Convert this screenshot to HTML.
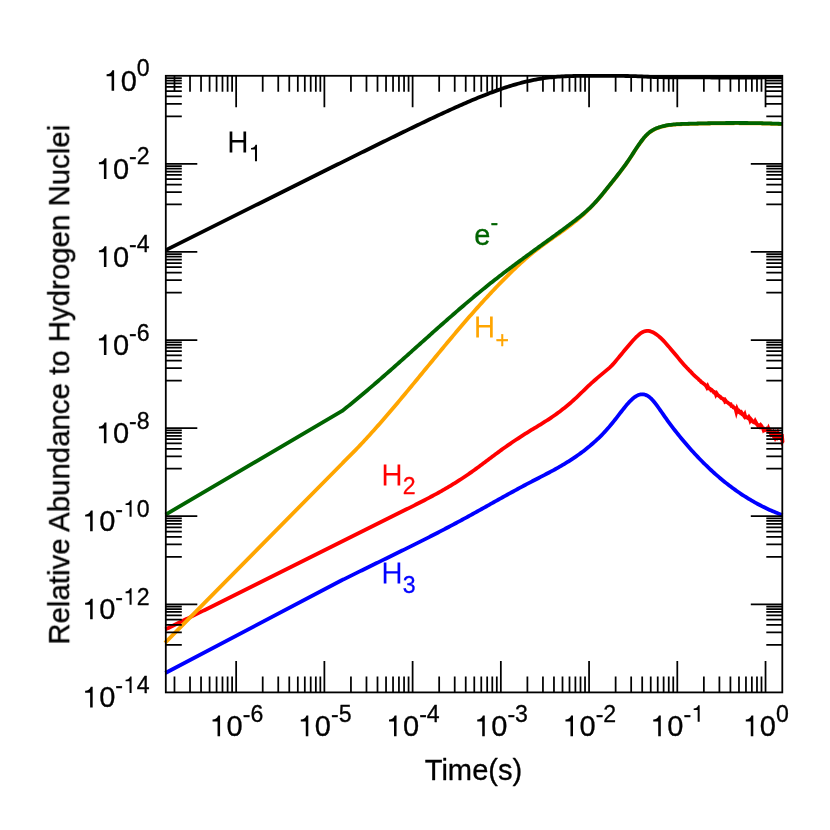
<!DOCTYPE html>
<html>
<head>
<meta charset="utf-8">
<title>Relative Abundance to Hydrogen Nuclei vs Time</title>
<style>
html,body{margin:0;padding:0;background:#fff;}
body{width:830px;height:830px;overflow:hidden;font-family:"Liberation Sans",sans-serif;}
svg{display:block;}
</style>
</head>
<body>
<svg width="830" height="830" viewBox="0 0 830 830">
<rect width="830" height="830" fill="#fff"/>
<g fill="none" stroke-linejoin="round" stroke-linecap="butt" stroke-width="3.8">
<path stroke="#000" d="M165.8 250.09 L167.8 249.09 L169.8 248.09 L171.8 247.09 L173.8 246.1 L175.8 245.1 L177.8 244.1 L179.8 243.1 L181.8 242.1 L183.8 241.1 L185.8 240.11 L187.8 239.11 L189.8 238.11 L191.8 237.11 L193.8 236.11 L195.8 235.12 L197.8 234.12 L199.8 233.12 L201.8 232.12 L203.8 231.12 L205.8 230.12 L207.8 229.13 L209.8 228.13 L211.8 227.13 L213.8 226.13 L215.8 225.13 L217.8 224.13 L219.8 223.14 L221.8 222.14 L223.8 221.14 L225.8 220.14 L227.8 219.14 L229.8 218.15 L231.8 217.15 L233.8 216.15 L235.8 215.15 L237.8 214.15 L239.8 213.16 L241.8 212.16 L243.8 211.16 L245.8 210.16 L247.8 209.16 L249.8 208.17 L251.8 207.17 L253.8 206.17 L255.8 205.17 L257.8 204.18 L259.8 203.18 L261.8 202.18 L263.8 201.18 L265.8 200.18 L267.8 199.19 L269.8 198.19 L271.8 197.19 L273.8 196.19 L275.8 195.2 L277.8 194.2 L279.8 193.2 L281.8 192.2 L283.8 191.21 L285.8 190.21 L287.8 189.21 L289.8 188.22 L291.8 187.22 L293.8 186.22 L295.8 185.23 L297.8 184.23 L299.8 183.23 L301.8 182.24 L303.8 181.24 L305.8 180.24 L307.8 179.25 L309.8 178.25 L311.8 177.26 L313.8 176.26 L315.8 175.26 L317.8 174.27 L319.8 173.27 L321.8 172.28 L323.8 171.28 L325.8 170.29 L327.8 169.29 L329.8 168.3 L331.8 167.3 L333.8 166.31 L335.8 165.32 L337.8 164.32 L339.8 163.33 L341.8 162.34 L343.8 161.34 L345.8 160.35 L347.8 159.36 L349.8 158.37 L351.8 157.38 L353.8 156.38 L355.8 155.39 L357.8 154.4 L359.8 153.41 L361.8 152.42 L363.8 151.44 L365.8 150.45 L367.8 149.46 L369.8 148.47 L371.8 147.48 L373.8 146.5 L375.8 145.51 L377.8 144.53 L379.8 143.54 L381.8 142.56 L383.8 141.58 L385.8 140.6 L387.8 139.62 L389.8 138.64 L391.8 137.66 L393.8 136.68 L395.8 135.7 L397.8 134.73 L399.8 133.75 L401.8 132.78 L403.8 131.81 L405.8 130.84 L407.8 129.87 L409.8 128.9 L411.8 127.93 L413.8 126.97 L415.8 126.01 L417.8 125.05 L419.8 124.09 L421.8 123.13 L423.8 122.18 L425.8 121.23 L427.8 120.28 L429.8 119.33 L431.8 118.39 L433.8 117.45 L435.8 116.51 L437.8 115.57 L439.8 114.64 L441.8 113.71 L443.8 112.79 L445.8 111.87 L447.8 110.95 L449.8 110.04 L451.8 109.13 L453.8 108.23 L455.8 107.33 L457.8 106.44 L459.8 105.55 L461.8 104.67 L463.8 103.79 L465.8 102.92 L467.8 102.06 L469.8 101.21 L471.8 100.36 L473.8 99.52 L475.8 98.68 L477.8 97.86 L479.8 97.04 L481.8 96.23 L483.8 95.43 L485.8 94.65 L487.8 93.87 L489.8 93.1 L491.8 92.35 L493.8 91.6 L495.8 90.87 L497.8 90.15 L499.8 89.44 L501.8 88.75 L503.8 88.07 L505.8 87.41 L507.8 86.76 L509.8 86.13 L511.8 85.51 L513.8 84.91 L515.8 84.33 L517.8 83.76 L519.8 83.22 L521.8 82.69 L523.8 82.18 L525.8 81.7 L527.8 81.23 L529.8 80.78 L531.8 80.35 L533.8 79.95 L535.8 79.56 L537.8 79.2 L539.8 78.86 L541.8 78.54 L543.8 78.24 L545.8 77.96 L547.8 77.71 L549.8 77.47 L551.8 77.26 L553.8 77.06 L555.8 76.88 L557.8 76.72 L559.8 76.58 L561.8 76.46 L563.8 76.35 L565.8 76.25 L567.8 76.17 L569.8 76.1 L571.8 76.04 L573.8 75.99 L575.8 75.95 L577.8 75.92 L579.8 75.9 L581.8 75.88 L583.8 75.86 L585.8 75.85 L587.8 75.84 L589.8 75.84 L591.8 75.83 L593.8 75.83 L595.8 75.83 L597.8 75.83 L599.8 75.84 L601.8 75.84 L603.8 75.84 L605.8 75.85 L607.8 75.86 L609.8 75.86 L611.8 75.87 L613.8 75.88 L615.8 75.9 L617.8 75.91 L619.8 75.92 L621.8 75.94 L623.8 75.96 L625.8 75.99 L627.8 76.02 L629.8 76.06 L631.8 76.1 L633.8 76.16 L635.8 76.22 L637.8 76.29 L639.8 76.37 L641.8 76.46 L643.8 76.56 L645.8 76.65 L647.8 76.75 L649.8 76.84 L651.8 76.92 L653.8 76.99 L655.8 77.05 L657.8 77.11 L659.8 77.16 L661.8 77.2 L663.8 77.24 L665.8 77.27 L667.8 77.3 L669.8 77.33 L671.8 77.35 L673.8 77.37 L675.8 77.38 L677.8 77.39 L679.8 77.4 L681.8 77.41 L683.8 77.41 L685.8 77.42 L687.8 77.42 L689.8 77.43 L691.8 77.43 L693.8 77.44 L695.8 77.44 L697.8 77.45 L699.8 77.45 L701.8 77.46 L703.8 77.46 L705.8 77.47 L707.8 77.47 L709.8 77.47 L711.8 77.48 L713.8 77.48 L715.8 77.48 L717.8 77.48 L719.8 77.49 L721.8 77.49 L723.8 77.49 L725.8 77.49 L727.8 77.49 L729.8 77.5 L731.8 77.5 L733.8 77.5 L735.8 77.5 L737.8 77.5 L739.8 77.5 L741.8 77.5 L743.8 77.5 L745.8 77.49 L747.8 77.49 L749.8 77.49 L751.8 77.49 L753.8 77.49 L755.8 77.48 L757.8 77.48 L759.8 77.48 L761.8 77.47 L763.8 77.47 L765.8 77.46 L767.8 77.46 L769.8 77.45 L771.8 77.45 L773.8 77.44 L775.8 77.44 L777.8 77.43 L779.8 77.42 L781.8 77.42"/>
<path stroke="#f00" stroke-linejoin="miter" d="M165.4 629.4 L166.9 628.66 L168.4 627.93 L169.9 627.19 L171.4 626.45 L172.9 625.72 L174.4 624.98 L175.9 624.24 L177.4 623.51 L178.9 622.77 L180.4 622.03 L181.9 621.29 L183.4 620.55 L184.9 619.81 L186.4 619.07 L187.9 618.33 L189.4 617.59 L190.9 616.85 L192.4 616.11 L193.9 615.37 L195.4 614.63 L196.9 613.89 L198.4 613.15 L199.9 612.4 L201.4 611.66 L202.9 610.92 L204.4 610.18 L205.9 609.43 L207.4 608.69 L208.9 607.94 L210.4 607.2 L211.9 606.46 L213.4 605.71 L214.9 604.97 L216.4 604.22 L217.9 603.48 L219.4 602.73 L220.9 601.99 L222.4 601.24 L223.9 600.49 L225.4 599.75 L226.9 599 L228.4 598.25 L229.9 597.51 L231.4 596.76 L232.9 596.01 L234.4 595.27 L235.9 594.52 L237.4 593.77 L238.9 593.02 L240.4 592.27 L241.9 591.53 L243.4 590.78 L244.9 590.03 L246.4 589.28 L247.9 588.53 L249.4 587.78 L250.9 587.03 L252.4 586.28 L253.9 585.53 L255.4 584.78 L256.9 584.03 L258.4 583.28 L259.9 582.53 L261.4 581.78 L262.9 581.03 L264.4 580.28 L265.9 579.53 L267.4 578.78 L268.9 578.03 L270.4 577.28 L271.9 576.53 L273.4 575.78 L274.9 575.03 L276.4 574.28 L277.9 573.53 L279.4 572.78 L280.9 572.02 L282.4 571.27 L283.9 570.52 L285.4 569.77 L286.9 569.02 L288.4 568.27 L289.9 567.51 L291.4 566.76 L292.9 566.01 L294.4 565.26 L295.9 564.51 L297.4 563.76 L298.9 563 L300.4 562.25 L301.9 561.5 L303.4 560.75 L304.9 560 L306.4 559.25 L307.9 558.49 L309.4 557.74 L310.9 556.99 L312.4 556.24 L313.9 555.49 L315.4 554.73 L316.9 553.98 L318.4 553.23 L319.9 552.48 L321.4 551.73 L322.9 550.98 L324.4 550.22 L325.9 549.47 L327.4 548.72 L328.9 547.97 L330.4 547.22 L331.9 546.47 L333.4 545.72 L334.9 544.97 L336.4 544.21 L337.9 543.46 L339.4 542.71 L340.9 541.96 L342.4 541.21 L343.9 540.46 L345.4 539.71 L346.9 538.96 L348.4 538.21 L349.9 537.46 L351.4 536.71 L352.9 535.96 L354.4 535.21 L355.9 534.46 L357.4 533.71 L358.9 532.96 L360.4 532.21 L361.9 531.46 L363.4 530.71 L364.9 529.97 L366.4 529.22 L367.9 528.47 L369.4 527.72 L370.9 526.97 L372.4 526.22 L373.9 525.48 L375.4 524.73 L376.9 523.98 L378.4 523.23 L379.9 522.49 L381.4 521.74 L382.9 520.99 L384.4 520.25 L385.9 519.5 L387.4 518.75 L388.9 518.01 L390.4 517.26 L391.9 516.52 L393.4 515.77 L394.9 515.03 L396.4 514.28 L397.9 513.54 L399.4 512.79 L400.9 512.05 L402.4 511.31 L403.9 510.56 L405.4 509.82 L406.9 509.07 L408.4 508.33 L409.9 507.58 L411.4 506.83 L412.9 506.08 L414.4 505.32 L415.9 504.57 L417.4 503.81 L418.9 503.05 L420.4 502.28 L421.9 501.51 L423.4 500.74 L424.9 499.96 L426.4 499.18 L427.9 498.39 L429.4 497.6 L430.9 496.8 L432.4 495.99 L433.9 495.18 L435.4 494.37 L436.9 493.55 L438.4 492.72 L439.9 491.88 L441.4 491.03 L442.9 490.18 L444.4 489.32 L445.9 488.45 L447.4 487.58 L448.9 486.69 L450.4 485.79 L451.9 484.89 L453.4 483.97 L454.9 483.05 L456.4 482.11 L457.9 481.16 L459.4 480.21 L460.9 479.24 L462.4 478.26 L463.9 477.27 L465.4 476.26 L466.9 475.24 L468.4 474.21 L469.9 473.17 L471.4 472.12 L472.9 471.05 L474.4 469.97 L475.9 468.88 L477.4 467.78 L478.9 466.67 L480.4 465.56 L481.9 464.44 L483.4 463.32 L484.9 462.19 L486.4 461.06 L487.9 459.93 L489.4 458.81 L490.9 457.68 L492.4 456.55 L493.9 455.43 L495.4 454.31 L496.9 453.2 L498.4 452.1 L499.9 451 L501.4 449.91 L502.9 448.83 L504.4 447.76 L505.9 446.7 L507.4 445.65 L508.9 444.61 L510.4 443.58 L511.9 442.55 L513.4 441.53 L514.9 440.53 L516.4 439.53 L517.9 438.54 L519.4 437.55 L520.9 436.58 L522.4 435.61 L523.9 434.66 L525.4 433.71 L526.9 432.77 L528.4 431.83 L529.9 430.91 L531.4 429.99 L532.9 429.08 L534.4 428.17 L535.9 427.26 L537.4 426.35 L538.9 425.44 L540.4 424.52 L541.9 423.6 L543.4 422.67 L544.9 421.73 L546.4 420.77 L547.9 419.8 L549.4 418.81 L550.9 417.81 L552.4 416.79 L553.9 415.75 L555.4 414.69 L556.9 413.62 L558.4 412.52 L559.9 411.41 L561.4 410.27 L562.9 409.11 L564.4 407.93 L565.9 406.72 L567.4 405.49 L568.9 404.23 L570.4 402.94 L571.9 401.63 L573.4 400.29 L574.9 398.92 L576.4 397.52 L577.9 396.1 L579.4 394.66 L580.9 393.2 L582.4 391.74 L583.9 390.28 L585.4 388.83 L586.9 387.38 L588.4 385.95 L589.9 384.55 L591.4 383.17 L592.9 381.82 L594.4 380.49 L595.9 379.19 L597.4 377.9 L598.9 376.64 L600.4 375.39 L601.9 374.14 L603.4 372.9 L604.9 371.65 L606.4 370.39 L607.9 369.12 L609.4 367.84 L610.9 366.5 L612.4 364.86 L613.9 363.15 L615.4 361.41 L616.9 359.64 L618.4 357.85 L619.9 356.04 L621.4 354.22 L622.9 352.4 L624.4 350.57 L625.9 348.75 L627.4 346.95 L628.9 345.16 L630.4 343.41 L631.9 341.7 L633.4 340.04 L634.9 338.46 L636.4 336.96 L637.9 335.54 L639.4 334.24 L640.9 333.09 L642.4 332.17 L643.9 331.51 L645.4 331.1 L646.9 330.92 L648.4 330.97 L649.9 331.22 L651.4 331.67 L652.9 332.3 L654.4 333.1 L655.9 334.06 L657.4 335.15 L658.9 336.37 L660.4 337.71 L661.9 339.15 L663.4 340.68 L664.9 342.28 L666.4 343.94 L667.9 345.64 L669.4 347.38 L670.9 349.15 L672.4 350.93 L673.9 352.73 L675.4 354.54 L676.9 356.34 L678.4 358.14 L679.9 359.93 L681.4 361.69 L682.9 363.44 L684.4 365.15 L685.9 366.82 L687.4 368.46 L688 368.97 L688.7 369.71 L689.4 370.63 L690.1 371.03 L690.8 371.97 L691.5 372.44 L692.2 373.51 L692.9 374.09 L693.6 374.91 L694.3 375.36 L695 376.13 L695.7 376.7 L696.4 377.29 L697.1 378.05 L697.8 378.49 L698.5 379.24 L699.2 380.01 L699.9 380.54 L700.6 381.08 L701.3 382.07 L702 382.35 L702.7 382.85 L703.4 383.56 L704.1 384.03 L704.8 384.63 L705.5 385.22 L706.2 386.19 L706.9 387.46 L707.6 386.21 L708.3 387.67 L709 388.47 L709.7 388.62 L710.4 389.1 L711.1 390.23 L711.8 390.03 L712.5 390.79 L713.2 391.54 L713.9 392.41 L714.6 392.3 L715.3 392.53 L716 394.6 L716.7 393.52 L717.4 394.57 L718.1 395.3 L718.8 395.78 L719.5 396.34 L720.2 396.71 L720.9 397.66 L721.6 398.26 L722.3 398.44 L723 398.86 L723.7 399.71 L724.4 399.46 L725.1 401.53 L725.8 401.02 L726.5 401.97 L727.2 402.2 L727.9 402.67 L728.6 403.37 L729.3 403.84 L730 404.39 L730.7 404.34 L731.4 406.01 L732.1 406.07 L732.8 406.26 L733.5 407.4 L734.2 407.72 L734.9 408.15 L735.6 409.05 L736.3 411.7 L737 409.23 L737.7 410.87 L738.4 411.63 L739.1 410.93 L739.8 411.64 L740.5 412.69 L741.2 412.19 L741.9 413.3 L742.6 414.5 L743.3 414.91 L744 415.87 L744.7 414.6 L745.4 417.1 L746.1 416.76 L746.8 417.38 L747.5 417.75 L748.2 418.23 L748.9 417.1 L749.6 418.33 L750.3 420.55 L751 419.5 L751.7 420.32 L752.4 420.8 L753.1 421.78 L753.8 422.22 L754.5 422.55 L755.2 421.15 L755.9 422.42 L756.6 423.9 L757.3 424.43 L758 425.59 L758.7 425.08 L759.4 425.15 L760.1 426.37 L760.8 425.27 L761.5 426.09 L762.2 427.58 L762.9 428.05 L763.6 430.05 L764.3 429.33 L765 430.12 L765.7 429.71 L766.4 429.04 L767.1 429.86 L767.8 430.42 L768.5 428.6 L769.2 430.22 L769.9 430.49 L770.6 433.18 L771.3 434.75 L772 434.33 L772.7 435.22 L773.4 433.36 L774.1 435.4 L774.8 436.93 L775.5 434.77 L776.2 436.58 L776.9 435.23 L777.6 433.53 L778.3 436.28 L779 435.22 L779.7 436.9 L780.4 436.33 L781.1 437.84 L781.8 434.19 L782.5 441.36 L783.2 440.5"/>
<path stroke="#00f" d="M165.4 673 L342.2 580 L343.7 579.36 L345.2 578.61 L346.7 577.86 L348.2 577.11 L349.7 576.37 L351.2 575.62 L352.7 574.88 L354.2 574.14 L355.7 573.39 L357.2 572.65 L358.7 571.91 L360.2 571.17 L361.7 570.43 L363.2 569.69 L364.7 568.96 L366.2 568.22 L367.7 567.48 L369.2 566.75 L370.7 566.01 L372.2 565.28 L373.7 564.54 L375.2 563.81 L376.7 563.07 L378.2 562.34 L379.7 561.61 L381.2 560.87 L382.7 560.14 L384.2 559.4 L385.7 558.67 L387.2 557.93 L388.7 557.2 L390.2 556.46 L391.7 555.73 L393.2 554.99 L394.7 554.26 L396.2 553.52 L397.7 552.78 L399.2 552.05 L400.7 551.31 L402.2 550.57 L403.7 549.83 L405.2 549.09 L406.7 548.34 L408.2 547.6 L409.7 546.86 L411.2 546.11 L412.7 545.37 L414.2 544.62 L415.7 543.87 L417.2 543.12 L418.7 542.37 L420.2 541.62 L421.7 540.86 L423.2 540.11 L424.7 539.35 L426.2 538.59 L427.7 537.83 L429.2 537.07 L430.7 536.31 L432.2 535.54 L433.7 534.77 L435.2 534 L436.7 533.23 L438.2 532.46 L439.7 531.68 L441.2 530.9 L442.7 530.12 L444.2 529.34 L445.7 528.56 L447.2 527.77 L448.7 526.98 L450.2 526.19 L451.7 525.39 L453.2 524.6 L454.7 523.8 L456.2 522.99 L457.7 522.19 L459.2 521.38 L460.7 520.57 L462.2 519.76 L463.7 518.94 L465.2 518.12 L466.7 517.3 L468.2 516.47 L469.7 515.65 L471.2 514.82 L472.7 513.99 L474.2 513.16 L475.7 512.33 L477.2 511.49 L478.7 510.66 L480.2 509.82 L481.7 508.98 L483.2 508.15 L484.7 507.31 L486.2 506.47 L487.7 505.63 L489.2 504.79 L490.7 503.95 L492.2 503.11 L493.7 502.27 L495.2 501.43 L496.7 500.59 L498.2 499.76 L499.7 498.92 L501.2 498.09 L502.7 497.25 L504.2 496.42 L505.7 495.59 L507.2 494.76 L508.7 493.93 L510.2 493.1 L511.7 492.28 L513.2 491.46 L514.7 490.64 L516.2 489.82 L517.7 489.01 L519.2 488.2 L520.7 487.39 L522.2 486.59 L523.7 485.78 L525.2 484.99 L526.7 484.19 L528.2 483.4 L529.7 482.61 L531.2 481.83 L532.7 481.05 L534.2 480.27 L535.7 479.5 L537.2 478.73 L538.7 477.95 L540.2 477.18 L541.7 476.4 L543.2 475.62 L544.7 474.84 L546.2 474.06 L547.7 473.27 L549.2 472.48 L550.7 471.67 L552.2 470.87 L553.7 470.05 L555.2 469.23 L556.7 468.4 L558.2 467.55 L559.7 466.7 L561.2 465.83 L562.7 464.95 L564.2 464.06 L565.7 463.16 L567.2 462.24 L568.7 461.3 L570.2 460.35 L571.7 459.38 L573.2 458.39 L574.7 457.38 L576.2 456.35 L577.7 455.3 L579.2 454.24 L580.7 453.14 L582.2 452.03 L583.7 450.89 L585.2 449.73 L586.7 448.54 L588.2 447.33 L589.7 446.09 L591.2 444.82 L592.7 443.52 L594.2 442.19 L595.7 440.83 L597.2 439.44 L598.7 438.01 L600.2 436.54 L601.7 435.04 L603.2 433.49 L604.7 431.9 L606.2 430.27 L607.7 428.6 L609.2 426.87 L610.7 425.1 L612.2 423.28 L613.7 421.41 L615.2 419.51 L616.7 417.58 L618.2 415.63 L619.7 413.68 L621.2 411.74 L622.7 409.83 L624.2 407.95 L625.7 406.11 L627.2 404.34 L628.7 402.66 L630.2 401.07 L631.7 399.61 L633.2 398.28 L634.7 397.12 L636.2 396.12 L637.7 395.33 L639.2 394.74 L640.7 394.38 L642.2 394.27 L643.7 394.39 L645.2 394.76 L646.7 395.37 L648.2 396.22 L649.7 397.33 L651.2 398.68 L652.7 400.26 L654.2 402.03 L655.7 403.93 L657.2 405.93 L658.7 408.01 L660.2 410.14 L661.7 412.28 L663.2 414.43 L664.7 416.57 L666.2 418.68 L667.7 420.77 L669.2 422.82 L670.7 424.84 L672.2 426.83 L673.7 428.79 L675.2 430.72 L676.7 432.63 L678.2 434.51 L679.7 436.37 L681.2 438.2 L682.7 440.01 L684.2 441.8 L685.7 443.57 L687.2 445.31 L688.7 447.03 L690.2 448.73 L691.7 450.41 L693.2 452.06 L694.7 453.7 L696.2 455.31 L697.7 456.9 L699.2 458.46 L700.7 460.01 L702.2 461.54 L703.7 463.04 L705.2 464.52 L706.7 465.98 L708.2 467.42 L709.7 468.84 L711.2 470.24 L712.7 471.62 L714.2 472.98 L715.7 474.32 L717.2 475.63 L718.7 476.93 L720.2 478.21 L721.7 479.46 L723.2 480.7 L724.7 481.92 L726.2 483.12 L727.7 484.3 L729.2 485.46 L730.7 486.6 L732.2 487.72 L733.7 488.82 L735.2 489.9 L736.7 490.97 L738.2 492.02 L739.7 493.04 L741.2 494.05 L742.7 495.04 L744.2 496.02 L745.7 496.97 L747.2 497.91 L748.7 498.83 L750.2 499.73 L751.7 500.61 L753.2 501.48 L754.7 502.33 L756.2 503.16 L757.7 503.98 L759.2 504.78 L760.7 505.56 L762.2 506.32 L763.7 507.07 L765.2 507.8 L766.7 508.51 L768.2 509.21 L769.7 509.9 L771.2 510.56 L772.7 511.21 L774.2 511.85 L775.7 512.47 L777.2 513.07 L778.7 513.66 L780.2 514.23 L781.7 514.79 L782.6 515.11"/>
<path stroke="#ffa500" d="M165 642.8 L342.2 463.5 L343.7 461.85 L345.2 460.39 L346.7 458.92 L348.2 457.44 L349.7 455.94 L351.2 454.43 L352.7 452.91 L354.2 451.38 L355.7 449.83 L357.2 448.27 L358.7 446.7 L360.2 445.12 L361.7 443.53 L363.2 441.93 L364.7 440.32 L366.2 438.69 L367.7 437.06 L369.2 435.42 L370.7 433.76 L372.2 432.1 L373.7 430.43 L375.2 428.75 L376.7 427.06 L378.2 425.37 L379.7 423.66 L381.2 421.95 L382.7 420.23 L384.2 418.5 L385.7 416.77 L387.2 415.03 L388.7 413.28 L390.2 411.53 L391.7 409.77 L393.2 408 L394.7 406.23 L396.2 404.46 L397.7 402.68 L399.2 400.89 L400.7 399.1 L402.2 397.31 L403.7 395.51 L405.2 393.71 L406.7 391.9 L408.2 390.1 L409.7 388.29 L411.2 386.47 L412.7 384.66 L414.2 382.84 L415.7 381.02 L417.2 379.2 L418.7 377.37 L420.2 375.55 L421.7 373.72 L423.2 371.9 L424.7 370.07 L426.2 368.25 L427.7 366.42 L429.2 364.59 L430.7 362.77 L432.2 360.94 L433.7 359.12 L435.2 357.3 L436.7 355.48 L438.2 353.66 L439.7 351.84 L441.2 350.03 L442.7 348.22 L444.2 346.41 L445.7 344.61 L447.2 342.81 L448.7 341.01 L450.2 339.21 L451.7 337.42 L453.2 335.64 L454.7 333.86 L456.2 332.08 L457.7 330.31 L459.2 328.55 L460.7 326.79 L462.2 325.03 L463.7 323.29 L465.2 321.55 L466.7 319.81 L468.2 318.08 L469.7 316.37 L471.2 314.65 L472.7 312.95 L474.2 311.25 L475.7 309.56 L477.2 307.88 L478.7 306.2 L480.2 304.54 L481.7 302.88 L483.2 301.23 L484.7 299.59 L486.2 297.96 L487.7 296.34 L489.2 294.72 L490.7 293.12 L492.2 291.52 L493.7 289.94 L495.2 288.36 L496.7 286.79 L498.2 285.23 L499.7 283.68 L501.2 282.15 L502.7 280.62 L504.2 279.1 L505.7 277.59 L507.2 276.09 L508.7 274.61 L510.2 273.14 L511.7 271.67 L513.2 270.23 L514.7 268.79 L516.2 267.37 L517.7 265.97 L519.2 264.58 L520.7 263.2 L522.2 261.84 L523.7 260.5 L525.2 259.18 L526.7 257.88 L528.2 256.59 L529.7 255.32 L531.2 254.07 L532.7 252.85 L534.2 251.64 L535.7 250.45 L537.2 249.29 L538.7 248.14 L540.2 247.01 L541.7 245.89 L543.2 244.79 L544.7 243.7 L546.2 242.62 L547.7 241.54 L549.2 240.48 L550.7 239.42 L552.2 238.36 L553.7 237.3 L555.2 236.25 L556.7 235.2 L558.2 234.14 L559.7 233.08 L561.2 232.01 L562.7 230.93 L564.2 229.85 L565.7 228.75 L567.2 227.65 L568.7 226.53 L570.2 225.39 L571.7 224.24 L573.2 223.07 L574.7 221.88 L576.2 220.66 L577.7 219.43 L579.2 218.16 L580.7 216.88 L582.2 215.56 L583.7 214.22 L585.2 212.84 L586.7 211.43 L588.2 209.99 L589.7 208.51 L590 208.2 L592.7 205.3 L594.2 203.74 L595.7 202.12 L597.2 200.46 L598.7 198.75 L600.2 196.99 L601.7 195.21 L603.2 193.39 L604.7 191.54 L606.2 189.68 L607.7 187.8 L609.2 185.9 L610.7 184.01 L612.2 182.11 L613.7 180.21 L615.2 178.32 L616.7 176.44 L618.2 174.54 L619.7 172.62 L621.2 170.67 L622.7 168.69 L624.2 166.65 L625.7 164.57 L627.2 162.42 L628.7 160.22 L630.2 157.97 L631.7 155.68 L633.2 153.37 L634.7 151.07 L636.2 148.78 L637.7 146.53 L639.2 144.34 L640.7 142.24 L642.2 140.24 L643.7 138.36 L645.2 136.62 L646.7 135.04 L648.2 133.65 L649.7 132.41 L651.2 131.33 L652.7 130.39 L654.2 129.57 L655.7 128.85 L657.2 128.23 L658.7 127.68 L660.2 127.2 L661.7 126.76 L663.2 126.37 L664.7 126.03 L666.2 125.72 L667.7 125.45 L669.2 125.22 L670.7 125.02 L672.2 124.84 L673.7 124.7 L675.2 124.57 L676.7 124.47 L678.2 124.38 L679.7 124.3 L681.2 124.24 L682.7 124.18 L684.2 124.14 L685.7 124.09 L687.2 124.04 L688.7 124 L690.2 123.95 L691.7 123.91 L693.2 123.87 L694.7 123.83 L696.2 123.79 L697.7 123.75 L699.2 123.71 L700.7 123.68 L702.2 123.64 L703.7 123.61 L705.2 123.58 L706.7 123.55 L708.2 123.52 L709.7 123.49 L711.2 123.46 L712.7 123.43 L714.2 123.41 L715.7 123.39 L717.2 123.36 L718.7 123.34 L720.2 123.33 L721.7 123.31 L723.2 123.29 L724.7 123.28 L726.2 123.27 L727.7 123.26 L729.2 123.25 L730.7 123.24 L732.2 123.23 L733.7 123.23 L735.2 123.22 L736.7 123.22 L738.2 123.22 L739.7 123.23 L741.2 123.23 L742.7 123.24 L744.2 123.25 L745.7 123.26 L747.2 123.27 L748.7 123.28 L750.2 123.3 L751.7 123.31 L753.2 123.33 L754.7 123.35 L756.2 123.38 L757.7 123.4 L759.2 123.43 L760.7 123.46 L762.2 123.49 L763.7 123.53 L765.2 123.56 L766.7 123.6 L768.2 123.64 L769.7 123.68 L771.2 123.73 L772.7 123.78 L774.2 123.83 L775.7 123.88 L777.2 123.93 L778.7 123.99 L780.2 124.05 L781.7 124.11 L783 124.16"/>
<path stroke="#006400" d="M165.6 514.6 L342.2 410.9 L343.7 409.71 L345.2 408.51 L346.7 407.31 L348.2 406.11 L349.7 404.9 L351.2 403.68 L352.7 402.46 L354.2 401.23 L355.7 399.99 L357.2 398.75 L358.7 397.51 L360.2 396.26 L361.7 395.01 L363.2 393.75 L364.7 392.49 L366.2 391.22 L367.7 389.95 L369.2 388.67 L370.7 387.39 L372.2 386.11 L373.7 384.82 L375.2 383.53 L376.7 382.24 L378.2 380.94 L379.7 379.64 L381.2 378.34 L382.7 377.03 L384.2 375.72 L385.7 374.41 L387.2 373.09 L388.7 371.78 L390.2 370.46 L391.7 369.13 L393.2 367.81 L394.7 366.48 L396.2 365.15 L397.7 363.82 L399.2 362.49 L400.7 361.16 L402.2 359.82 L403.7 358.49 L405.2 357.15 L406.7 355.81 L408.2 354.47 L409.7 353.14 L411.2 351.79 L412.7 350.45 L414.2 349.11 L415.7 347.77 L417.2 346.43 L418.7 345.09 L420.2 343.75 L421.7 342.41 L423.2 341.06 L424.7 339.72 L426.2 338.38 L427.7 337.05 L429.2 335.71 L430.7 334.37 L432.2 333.03 L433.7 331.7 L435.2 330.36 L436.7 329.03 L438.2 327.7 L439.7 326.37 L441.2 325.05 L442.7 323.72 L444.2 322.4 L445.7 321.08 L447.2 319.76 L448.7 318.44 L450.2 317.13 L451.7 315.82 L453.2 314.51 L454.7 313.21 L456.2 311.91 L457.7 310.61 L459.2 309.31 L460.7 308.02 L462.2 306.73 L463.7 305.45 L465.2 304.17 L466.7 302.89 L468.2 301.62 L469.7 300.35 L471.2 299.09 L472.7 297.83 L474.2 296.57 L475.7 295.32 L477.2 294.08 L478.7 292.84 L480.2 291.6 L481.7 290.37 L483.2 289.15 L484.7 287.93 L486.2 286.71 L487.7 285.5 L489.2 284.3 L490.7 283.11 L492.2 281.92 L493.7 280.73 L495.2 279.55 L496.7 278.38 L498.2 277.21 L499.7 276.05 L501.2 274.9 L502.7 273.75 L504.2 272.6 L505.7 271.46 L507.2 270.32 L508.7 269.19 L510.2 268.06 L511.7 266.94 L513.2 265.82 L514.7 264.7 L516.2 263.59 L517.7 262.47 L519.2 261.37 L520.7 260.26 L522.2 259.16 L523.7 258.06 L525.2 256.96 L526.7 255.87 L528.2 254.77 L529.7 253.68 L531.2 252.59 L532.7 251.5 L534.2 250.41 L535.7 249.32 L537.2 248.24 L538.7 247.15 L540.2 246.06 L541.7 244.98 L543.2 243.89 L544.7 242.8 L546.2 241.71 L547.7 240.63 L549.2 239.54 L550.7 238.45 L552.2 237.36 L553.7 236.26 L555.2 235.17 L556.7 234.07 L558.2 232.98 L559.7 231.87 L561.2 230.77 L562.7 229.67 L564.2 228.56 L565.7 227.45 L567.2 226.33 L568.7 225.21 L570.2 224.09 L571.7 222.97 L573.2 221.84 L574.7 220.69 L576.2 219.54 L577.7 218.36 L579.2 217.17 L580.7 215.96 L582.2 214.72 L583.7 213.45 L585.2 212.15 L586.7 210.81 L588.2 209.44 L589.7 208.02 L591.2 206.56 L592.7 205.05 L594.2 203.49 L595.7 201.87 L597.2 200.21 L598.7 198.5 L600.2 196.74 L601.7 194.96 L603.2 193.14 L604.7 191.29 L606.2 189.43 L607.7 187.55 L609.2 185.65 L610.7 183.76 L612.2 181.86 L613.7 179.96 L615.2 178.07 L616.7 176.19 L618.2 174.29 L619.7 172.37 L621.2 170.42 L622.7 168.44 L624.2 166.4 L625.7 164.32 L627.2 162.17 L628.7 159.97 L630.2 157.72 L631.7 155.43 L633.2 153.12 L634.7 150.82 L636.2 148.53 L637.7 146.28 L639.2 144.09 L640.7 141.99 L642.2 139.99 L643.7 138.11 L645.2 136.37 L646.7 134.79 L648.2 133.4 L649.7 132.16 L651.2 131.08 L652.7 130.14 L654.2 129.32 L655.7 128.6 L657.2 127.98 L658.7 127.43 L660.2 126.95 L661.7 126.51 L663.2 126.12 L664.7 125.78 L666.2 125.47 L667.7 125.2 L669.2 124.97 L670.7 124.77 L672.2 124.59 L673.7 124.45 L675.2 124.32 L676.7 124.22 L678.2 124.13 L679.7 124.05 L681.2 123.99 L682.7 123.93 L684.2 123.89 L685.7 123.84 L687.2 123.79 L688.7 123.75 L690.2 123.7 L691.7 123.66 L693.2 123.62 L694.7 123.58 L696.2 123.54 L697.7 123.5 L699.2 123.46 L700.7 123.43 L702.2 123.39 L703.7 123.36 L705.2 123.33 L706.7 123.3 L708.2 123.27 L709.7 123.24 L711.2 123.21 L712.7 123.18 L714.2 123.16 L715.7 123.14 L717.2 123.11 L718.7 123.09 L720.2 123.08 L721.7 123.06 L723.2 123.04 L724.7 123.03 L726.2 123.02 L727.7 123.01 L729.2 123 L730.7 122.99 L732.2 122.98 L733.7 122.98 L735.2 122.97 L736.7 122.97 L738.2 122.97 L739.7 122.98 L741.2 122.98 L742.7 122.99 L744.2 123 L745.7 123.01 L747.2 123.02 L748.7 123.03 L750.2 123.05 L751.7 123.06 L753.2 123.08 L754.7 123.1 L756.2 123.13 L757.7 123.15 L759.2 123.18 L760.7 123.21 L762.2 123.24 L763.7 123.28 L765.2 123.31 L766.7 123.35 L768.2 123.39 L769.7 123.43 L771.2 123.48 L772.7 123.53 L774.2 123.58 L775.7 123.63 L777.2 123.68 L778.7 123.74 L780.2 123.8 L781.7 123.86 L783 123.91"/>
</g>
<path fill="none" stroke="#000" stroke-width="1.75" d="M174.48 692.4 v-16 M174.48 75.8 v16 M190.02 692.4 v-16 M190.02 75.8 v16 M201.04 692.4 v-16 M201.04 75.8 v16 M209.59 692.4 v-16 M209.59 75.8 v16 M216.58 692.4 v-16 M216.58 75.8 v16 M222.48 692.4 v-16 M222.48 75.8 v16 M227.6 692.4 v-16 M227.6 75.8 v16 M232.11 692.4 v-16 M232.11 75.8 v16 M236.15 692.4 v-31.5 M236.15 75.8 v31.5 M262.71 692.4 v-16 M262.71 75.8 v16 M278.25 692.4 v-16 M278.25 75.8 v16 M289.27 692.4 v-16 M289.27 75.8 v16 M297.82 692.4 v-16 M297.82 75.8 v16 M304.81 692.4 v-16 M304.81 75.8 v16 M310.71 692.4 v-16 M310.71 75.8 v16 M315.83 692.4 v-16 M315.83 75.8 v16 M320.34 692.4 v-16 M320.34 75.8 v16 M324.38 692.4 v-31.5 M324.38 75.8 v31.5 M350.94 692.4 v-16 M350.94 75.8 v16 M366.48 692.4 v-16 M366.48 75.8 v16 M377.5 692.4 v-16 M377.5 75.8 v16 M386.05 692.4 v-16 M386.05 75.8 v16 M393.04 692.4 v-16 M393.04 75.8 v16 M398.94 692.4 v-16 M398.94 75.8 v16 M404.06 692.4 v-16 M404.06 75.8 v16 M408.57 692.4 v-16 M408.57 75.8 v16 M412.61 692.4 v-31.5 M412.61 75.8 v31.5 M439.17 692.4 v-16 M439.17 75.8 v16 M454.71 692.4 v-16 M454.71 75.8 v16 M465.73 692.4 v-16 M465.73 75.8 v16 M474.28 692.4 v-16 M474.28 75.8 v16 M481.27 692.4 v-16 M481.27 75.8 v16 M487.17 692.4 v-16 M487.17 75.8 v16 M492.29 692.4 v-16 M492.29 75.8 v16 M496.8 692.4 v-16 M496.8 75.8 v16 M500.84 692.4 v-31.5 M500.84 75.8 v31.5 M527.4 692.4 v-16 M527.4 75.8 v16 M542.94 692.4 v-16 M542.94 75.8 v16 M553.96 692.4 v-16 M553.96 75.8 v16 M562.51 692.4 v-16 M562.51 75.8 v16 M569.5 692.4 v-16 M569.5 75.8 v16 M575.4 692.4 v-16 M575.4 75.8 v16 M580.52 692.4 v-16 M580.52 75.8 v16 M585.03 692.4 v-16 M585.03 75.8 v16 M589.07 692.4 v-31.5 M589.07 75.8 v31.5 M615.63 692.4 v-16 M615.63 75.8 v16 M631.17 692.4 v-16 M631.17 75.8 v16 M642.19 692.4 v-16 M642.19 75.8 v16 M650.74 692.4 v-16 M650.74 75.8 v16 M657.73 692.4 v-16 M657.73 75.8 v16 M663.63 692.4 v-16 M663.63 75.8 v16 M668.75 692.4 v-16 M668.75 75.8 v16 M673.26 692.4 v-16 M673.26 75.8 v16 M677.3 692.4 v-31.5 M677.3 75.8 v31.5 M703.86 692.4 v-16 M703.86 75.8 v16 M719.4 692.4 v-16 M719.4 75.8 v16 M730.42 692.4 v-16 M730.42 75.8 v16 M738.97 692.4 v-16 M738.97 75.8 v16 M745.96 692.4 v-16 M745.96 75.8 v16 M751.86 692.4 v-16 M751.86 75.8 v16 M756.98 692.4 v-16 M756.98 75.8 v16 M761.49 692.4 v-16 M761.49 75.8 v16 M765.53 692.4 v-31.5 M765.53 75.8 v31.5 M165.8 116.36 h16 M782.3 116.36 h-16 M165.8 103.91 h16 M782.3 103.91 h-16 M165.8 96.44 h16 M782.3 96.44 h-16 M165.8 91.07 h16 M782.3 91.07 h-16 M165.8 86.89 h16 M782.3 86.89 h-16 M165.8 83.46 h16 M782.3 83.46 h-16 M165.8 80.55 h16 M782.3 80.55 h-16 M165.8 78.03 h16 M782.3 78.03 h-16 M165.8 163.89 h31.5 M782.3 163.89 h-31.5 M165.8 204.44 h16 M782.3 204.44 h-16 M165.8 192 h16 M782.3 192 h-16 M165.8 184.52 h16 M782.3 184.52 h-16 M165.8 179.16 h16 M782.3 179.16 h-16 M165.8 174.98 h16 M782.3 174.98 h-16 M165.8 171.55 h16 M782.3 171.55 h-16 M165.8 168.64 h16 M782.3 168.64 h-16 M165.8 166.11 h16 M782.3 166.11 h-16 M165.8 251.97 h31.5 M782.3 251.97 h-31.5 M165.8 292.53 h16 M782.3 292.53 h-16 M165.8 280.08 h16 M782.3 280.08 h-16 M165.8 272.61 h16 M782.3 272.61 h-16 M165.8 267.24 h16 M782.3 267.24 h-16 M165.8 263.06 h16 M782.3 263.06 h-16 M165.8 259.63 h16 M782.3 259.63 h-16 M165.8 256.72 h16 M782.3 256.72 h-16 M165.8 254.2 h16 M782.3 254.2 h-16 M165.8 340.06 h31.5 M782.3 340.06 h-31.5 M165.8 380.61 h16 M782.3 380.61 h-16 M165.8 368.17 h16 M782.3 368.17 h-16 M165.8 360.69 h16 M782.3 360.69 h-16 M165.8 355.33 h16 M782.3 355.33 h-16 M165.8 351.15 h16 M782.3 351.15 h-16 M165.8 347.72 h16 M782.3 347.72 h-16 M165.8 344.81 h16 M782.3 344.81 h-16 M165.8 342.29 h16 M782.3 342.29 h-16 M165.8 428.14 h31.5 M782.3 428.14 h-31.5 M165.8 468.7 h16 M782.3 468.7 h-16 M165.8 456.25 h16 M782.3 456.25 h-16 M165.8 448.78 h16 M782.3 448.78 h-16 M165.8 443.42 h16 M782.3 443.42 h-16 M165.8 439.23 h16 M782.3 439.23 h-16 M165.8 435.8 h16 M782.3 435.8 h-16 M165.8 432.9 h16 M782.3 432.9 h-16 M165.8 430.37 h16 M782.3 430.37 h-16 M165.8 516.23 h31.5 M782.3 516.23 h-31.5 M165.8 556.78 h16 M782.3 556.78 h-16 M165.8 544.34 h16 M782.3 544.34 h-16 M165.8 536.86 h16 M782.3 536.86 h-16 M165.8 531.5 h16 M782.3 531.5 h-16 M165.8 527.32 h16 M782.3 527.32 h-16 M165.8 523.89 h16 M782.3 523.89 h-16 M165.8 520.98 h16 M782.3 520.98 h-16 M165.8 518.46 h16 M782.3 518.46 h-16 M165.8 604.31 h31.5 M782.3 604.31 h-31.5 M165.8 644.87 h16 M782.3 644.87 h-16 M165.8 632.43 h16 M782.3 632.43 h-16 M165.8 624.95 h16 M782.3 624.95 h-16 M165.8 619.59 h16 M782.3 619.59 h-16 M165.8 615.4 h16 M782.3 615.4 h-16 M165.8 611.97 h16 M782.3 611.97 h-16 M165.8 609.07 h16 M782.3 609.07 h-16 M165.8 606.54 h16 M782.3 606.54 h-16"/>
<rect x="165.8" y="75.8" width="616.5" height="616.6" fill="none" stroke="#000" stroke-width="1.8"/>
<g font-family="'Liberation Sans', sans-serif" font-size="29" stroke-width="0.32" stroke-linejoin="round" opacity="0.999">
<g stroke="#000">
<path fill="#000" stroke="none" transform="translate(104.51 90.8) scale(29 -29)" d="M.332 0H.244V.505H.072V.572C.165 .576 .238 .612 .268 .712H.332Z"/>
<text x="120.63" y="90.8" font-size="29" fill="#000">0</text>
<text x="136.76" y="76.3" font-size="23.1" fill="#000">0</text>
<path fill="#000" stroke="none" transform="translate(96.82 178.89) scale(29 -29)" d="M.332 0H.244V.505H.072V.572C.165 .576 .238 .612 .268 .712H.332Z"/>
<text x="112.94" y="178.89" font-size="29" fill="#000">0</text>
<text x="129.06" y="164.39" font-size="23.1" fill="#000">-2</text>
<path fill="#000" stroke="none" transform="translate(96.82 266.97) scale(29 -29)" d="M.332 0H.244V.505H.072V.572C.165 .576 .238 .612 .268 .712H.332Z"/>
<text x="112.94" y="266.97" font-size="29" fill="#000">0</text>
<text x="129.06" y="252.47" font-size="23.1" fill="#000">-4</text>
<path fill="#000" stroke="none" transform="translate(96.82 355.06) scale(29 -29)" d="M.332 0H.244V.505H.072V.572C.165 .576 .238 .612 .268 .712H.332Z"/>
<text x="112.94" y="355.06" font-size="29" fill="#000">0</text>
<text x="129.06" y="340.56" font-size="23.1" fill="#000">-6</text>
<path fill="#000" stroke="none" transform="translate(96.82 443.14) scale(29 -29)" d="M.332 0H.244V.505H.072V.572C.165 .576 .238 .612 .268 .712H.332Z"/>
<text x="112.94" y="443.14" font-size="29" fill="#000">0</text>
<text x="129.06" y="428.64" font-size="23.1" fill="#000">-8</text>
<path fill="#000" stroke="none" transform="translate(83.05 531.23) scale(29 -29)" d="M.332 0H.244V.505H.072V.572C.165 .576 .238 .612 .268 .712H.332Z"/>
<text x="99.17" y="531.23" font-size="29" fill="#000">0</text>
<text x="115.3" y="516.73" font-size="23.1" fill="#000">-</text>
<path fill="#000" stroke="none" transform="translate(123.91 516.73) scale(23.1 -23.1)" d="M.332 0H.244V.505H.072V.572C.165 .576 .238 .612 .268 .712H.332Z"/>
<text x="136.76" y="516.73" font-size="23.1" fill="#000">0</text>
<path fill="#000" stroke="none" transform="translate(83.05 619.31) scale(29 -29)" d="M.332 0H.244V.505H.072V.572C.165 .576 .238 .612 .268 .712H.332Z"/>
<text x="99.17" y="619.31" font-size="29" fill="#000">0</text>
<text x="115.3" y="604.81" font-size="23.1" fill="#000">-</text>
<path fill="#000" stroke="none" transform="translate(123.91 604.81) scale(23.1 -23.1)" d="M.332 0H.244V.505H.072V.572C.165 .576 .238 .612 .268 .712H.332Z"/>
<text x="136.76" y="604.81" font-size="23.1" fill="#000">2</text>
<path fill="#000" stroke="none" transform="translate(83.05 707.4) scale(29 -29)" d="M.332 0H.244V.505H.072V.572C.165 .576 .238 .612 .268 .712H.332Z"/>
<text x="99.17" y="707.4" font-size="29" fill="#000">0</text>
<text x="115.3" y="692.9" font-size="23.1" fill="#000">-</text>
<path fill="#000" stroke="none" transform="translate(123.91 692.9) scale(23.1 -23.1)" d="M.332 0H.244V.505H.072V.572C.165 .576 .238 .612 .268 .712H.332Z"/>
<text x="136.76" y="692.9" font-size="23.1" fill="#000">4</text>
<path fill="#000" stroke="none" transform="translate(210.46 736.2) scale(29 -29)" d="M.332 0H.244V.505H.072V.572C.165 .576 .238 .612 .268 .712H.332Z"/>
<text x="226.58" y="736.2" font-size="29" fill="#000">0</text>
<text x="242.71" y="721.7" font-size="23.1" fill="#000">-6</text>
<path fill="#000" stroke="none" transform="translate(298.69 736.2) scale(29 -29)" d="M.332 0H.244V.505H.072V.572C.165 .576 .238 .612 .268 .712H.332Z"/>
<text x="314.81" y="736.2" font-size="29" fill="#000">0</text>
<text x="330.94" y="721.7" font-size="23.1" fill="#000">-5</text>
<path fill="#000" stroke="none" transform="translate(386.92 736.2) scale(29 -29)" d="M.332 0H.244V.505H.072V.572C.165 .576 .238 .612 .268 .712H.332Z"/>
<text x="403.04" y="736.2" font-size="29" fill="#000">0</text>
<text x="419.17" y="721.7" font-size="23.1" fill="#000">-4</text>
<path fill="#000" stroke="none" transform="translate(475.15 736.2) scale(29 -29)" d="M.332 0H.244V.505H.072V.572C.165 .576 .238 .612 .268 .712H.332Z"/>
<text x="491.27" y="736.2" font-size="29" fill="#000">0</text>
<text x="507.4" y="721.7" font-size="23.1" fill="#000">-3</text>
<path fill="#000" stroke="none" transform="translate(563.38 736.2) scale(29 -29)" d="M.332 0H.244V.505H.072V.572C.165 .576 .238 .612 .268 .712H.332Z"/>
<text x="579.5" y="736.2" font-size="29" fill="#000">0</text>
<text x="595.63" y="721.7" font-size="23.1" fill="#000">-2</text>
<path fill="#000" stroke="none" transform="translate(651.15 736.2) scale(29 -29)" d="M.332 0H.244V.505H.072V.572C.165 .576 .238 .612 .268 .712H.332Z"/>
<text x="667.27" y="736.2" font-size="29" fill="#000">0</text>
<text x="683.39" y="721.7" font-size="23.1" fill="#000">-</text>
<path fill="#000" stroke="none" transform="translate(692.01 721.7) scale(23.1 -23.1)" d="M.332 0H.244V.505H.072V.572C.165 .576 .238 .612 .268 .712H.332Z"/>
<path fill="#000" stroke="none" transform="translate(743.68 736.2) scale(29 -29)" d="M.332 0H.244V.505H.072V.572C.165 .576 .238 .612 .268 .712H.332Z"/>
<text x="759.81" y="736.2" font-size="29" fill="#000">0</text>
<text x="775.93" y="721.7" font-size="23.1" fill="#000">0</text>
<text x="473.5" y="779.9" text-anchor="middle" textLength="97.6" lengthAdjust="spacingAndGlyphs">Time(s)</text>
<text transform="translate(69.2 384.7) rotate(-90)" text-anchor="middle" font-size="29.6" textLength="520" lengthAdjust="spacingAndGlyphs">Relative Abundance to Hydrogen Nuclei</text>
<path fill="#000" stroke="none" transform="translate(227.4 152.5) scale(29 -29)" d="M.077 0H.17V.3465H.553V0H.646V.727H.553V.4295H.17V.727H.077Z"/>
<path fill="#000" stroke="none" transform="translate(249.34 161.2) scale(23.1 -23.1)" d="M.332 0H.244V.505H.072V.572C.165 .576 .238 .612 .268 .712H.332Z"/>
</g>
<g stroke="#006400">
<text x="474.2" y="245.3" font-size="29" fill="#006400">e</text>
<text x="490.62" y="230.3" font-size="23.1" fill="#006400">-</text>
</g><g stroke="#ffa500">
<path fill="#ffa500" stroke="none" transform="translate(474 337.5) scale(29 -29)" d="M.077 0H.17V.3465H.553V0H.646V.727H.553V.4295H.17V.727H.077Z"/>
<text x="495.54" y="348.3" font-size="23.1" fill="#ffa500">+</text>
</g><g stroke="#f00">
<path fill="#f00" stroke="none" transform="translate(381.5 485.5) scale(29 -29)" d="M.077 0H.17V.3465H.553V0H.646V.727H.553V.4295H.17V.727H.077Z"/>
<text x="402.74" y="494" font-size="23.1" fill="#f00">2</text>
</g><g stroke="#00f">
<path fill="#00f" stroke="none" transform="translate(381.5 583.6) scale(29 -29)" d="M.077 0H.17V.3465H.553V0H.646V.727H.553V.4295H.17V.727H.077Z"/>
<text x="402.74" y="593.2" font-size="23.1" fill="#00f">3</text>
</g>
</g>
</svg>
</body>
</html>
